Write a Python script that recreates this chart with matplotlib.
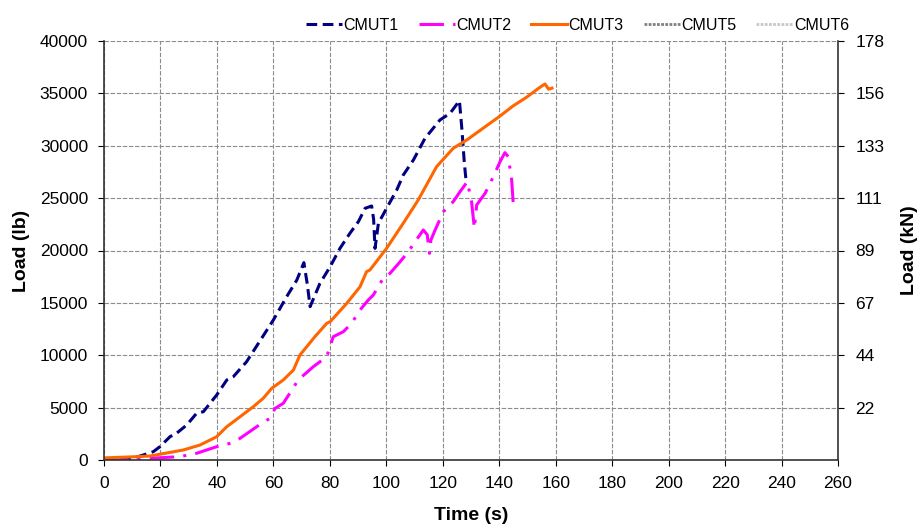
import matplotlib
matplotlib.use("Agg")
import matplotlib.pyplot as plt

plt.rcParams['font.family'] = ['Liberation Sans', 'DejaVu Sans']

# ---- data (time in s, load in lb) ----
cmut1_t = [0, 5, 10, 13.9, 17.5, 19.8, 23.4, 25.7, 29.3, 32.8, 35.2, 39.9, 43.5, 45.8, 50.5, 54.7, 60, 64.7, 68.3,
           70.8, 72.0, 73.0, 76.5, 80.1, 83.6, 87.1, 90.1, 92.5, 94.8, 95.5, 96.0, 97.2,
           100.1, 103.7, 106, 109.6, 113.7, 119, 122.6, 125.9, 126.8, 127.6, 128.2]
cmut1_y = [0, 50, 150, 477, 800, 1270, 2230, 2550, 3340, 4460, 4610, 6200, 7640, 7950, 9380, 11140, 13370, 15590, 17180,
           18840, 16800, 14640, 16870, 18450, 20210, 21640, 22750, 24030, 24250, 23000, 20200, 22600,
           24030, 25780, 27200, 28640, 30710, 32460, 33100, 34300, 31500, 28500, 26800]

cmut2_t = [0, 10, 16.3, 26.9, 32.8, 39.9, 44.6, 48.2, 54.1, 55.8, 58.8, 60.6, 63.5, 65.8, 68.8, 74.1, 78.9,
           81.2, 84.8, 87.7, 90.7, 93.6, 95.4, 98.9, 101.3, 104.9, 107.8, 110.2, 113.1, 114.5, 115.3, 115.8,
           117.3, 120.2, 123.7, 126.1, 128.7, 130.2, 131.2, 132, 135, 137.9, 140.3, 142, 143.2, 144.4, 145]
cmut2_y = [0, 0, 160, 320, 640, 1270, 1590, 2070, 3180, 3500, 3980, 4930, 5410, 6370, 7640, 8900, 9860,
           11770, 12250, 13050, 14320, 15270, 15750, 17350, 17820, 18930, 19890, 20840, 21960, 21500, 19730, 21000,
           21960, 23700, 24660, 25610, 26570, 24660, 22120, 24340, 25460, 27050, 28480, 29340, 28960, 26730, 24340]

cmut3_t = [0, 10, 16.3, 28.1, 34, 39.9, 43.5, 48.2, 52.9, 56.4, 59.4, 63.5, 67.1, 69.4, 74.7, 78.9, 80.1,
           86, 90.7, 93, 94.2, 100.1, 106, 111.3, 117.8, 123.7, 128.5, 140.3, 144.9, 149.8, 154, 156.2, 157.5, 158.7]
cmut3_y = [200, 300, 380, 955, 1430, 2220, 3180, 4130, 5090, 5890, 6840, 7640, 8590, 10020, 11770, 13050, 13200,
           14960, 16540, 17980, 18140, 20210, 22600, 24820, 28000, 29760, 30550, 32840, 33800, 34650, 35500, 35900, 35400, 35500]

cmut5_t, cmut5_y = [], []
cmut6_t, cmut6_y = [], []

x_ticks = list(range(0, 261, 20))
y_ticks = list(range(0, 40001, 5000))
kn_ticks = list(range(5000, 40001, 5000))
kn_labels = ['22', '44', '67', '89', '111', '133', '156', '178']

# ---- figure ----
W, H = 919, 527
fig = plt.figure(figsize=(W / 100, H / 100), dpi=100)
ax = fig.add_axes([104 / W, 67 / H, 734 / W, 419 / H])

ax.grid(True, color='#8c8c8c', linestyle=(0, (4, 1.5)), linewidth=0.8)
ax.set_axisbelow(True)

l1, = ax.plot(cmut1_t, cmut1_y, color='#000080', linestyle=(0, (3.5, 1.8)), linewidth=2.2, label='CMUT1')
l2, = ax.plot(cmut2_t, cmut2_y, color='#FF00FF', linestyle=(0, (8, 3, 1, 3)), linewidth=2.2, label='CMUT2')
l3, = ax.plot(cmut3_t, cmut3_y, color='#FF6600', linestyle='-', linewidth=2.2, label='CMUT3')
l5, = ax.plot(cmut5_t, cmut5_y, color='#808080', linestyle=(0, (1, 0.5)), linewidth=2.0, label='CMUT5')
l6, = ax.plot(cmut6_t, cmut6_y, color='#C8C8C8', linestyle=(0, (1, 0.5)), linewidth=2.0, label='CMUT6')

ax.set_xlim(0, 260)
ax.set_ylim(0, 40000)
ax.set_xticks(x_ticks)
ax.set_yticks(y_ticks)
ax.tick_params(axis='both', direction='out', length=4.5, pad=7, labelsize=12.5, colors='black')
ax.spines['top'].set_visible(False)
ax.spines['right'].set_visible(False)
for s in ('left', 'bottom'):
    ax.spines[s].set_color('#333333')
    ax.spines[s].set_linewidth(1.2)

ax.set_xlabel('Time (s)', fontsize=14, fontweight='bold', va='center')
ax.xaxis.set_label_coords(0.5, (460 - 516) / 419)
ax.set_ylabel('Load (lb)', fontsize=14, fontweight='bold', va='center')
ax.yaxis.set_label_coords((21 - 104) / 734, 0.5)

ax2 = ax.twinx()
ax2.set_ylim(0, 40000)
ax2.set_yticks(kn_ticks)
ax2.set_yticklabels(kn_labels)
ax2.tick_params(axis='y', direction='out', length=4.5, labelsize=12.5, pad=8)
for s in ('top', 'left', 'bottom'):
    ax2.spines[s].set_visible(False)
ax2.spines['right'].set_color('#333333')
ax2.spines['right'].set_linewidth(1.2)
ax2.set_ylabel('Load (kN)', fontsize=14, fontweight='bold', va='center')
ax2.yaxis.set_label_coords((910 - 104) / 734, 0.5)

leg = fig.legend(handles=[l1, l2, l3, l5, l6], loc='center right',
                 bbox_to_anchor=(849 / W, 1 - 25 / H), ncol=5, frameon=False,
                 fontsize=11.5, handlelength=2.25, handletextpad=0.1,
                 columnspacing=1.25, borderaxespad=0, borderpad=0)

fig.savefig('out.png', dpi=100)
